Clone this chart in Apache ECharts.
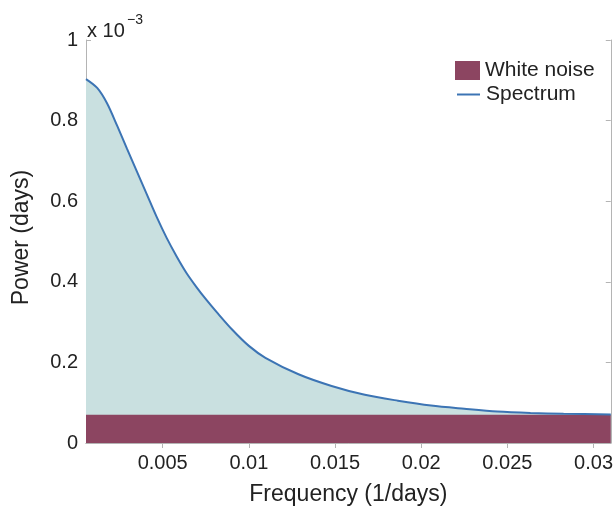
<!DOCTYPE html>
<html>
<head>
<meta charset="utf-8">
<script src="https://cdn.jsdelivr.net/npm/echarts@6/dist/echarts.min.js"></script>
<style>
  html, body { margin: 0; padding: 0; background: #fff; }
  #chart { width: 616px; height: 511px; }
</style>
</head>
<body>
<div id="chart"></div>
<script>
// Frequency (1/days) and spectral power (units of 1e-3 days)
const frequency = [0.00055, 0.0012, 0.00177, 0.00235, 0.00292, 0.0035, 0.00408, 0.00465, 0.00523,
  0.00581, 0.00638, 0.00696, 0.00754, 0.00811, 0.00904, 0.0100, 0.01096, 0.01288, 0.0148,
  0.01673, 0.01865, 0.02057, 0.0225, 0.02442, 0.02634, 0.02826, 0.0310];
const spectrum = [0.903, 0.881, 0.843, 0.788, 0.731, 0.674, 0.617, 0.561, 0.509,
  0.463, 0.422, 0.387, 0.355, 0.326, 0.281, 0.241, 0.2115, 0.1705, 0.1415,
  0.1195, 0.105, 0.093, 0.085, 0.078, 0.0745, 0.0727, 0.071];
const whiteNoiseLevel = 0.07;
const freqRange = [0.00055, 0.031];
const xTicks = [0.005, 0.01, 0.015, 0.02, 0.025, 0.03];
const yTicks = [0, 0.2, 0.4, 0.6, 0.8, 1];

const spectrumData = frequency.map((f, i) => [f, spectrum[i]]);
const noiseData = freqRange.map(f => [f, whiteNoiseLevel]);

const FONT = 'Liberation Sans, Arial, Helvetica, sans-serif';
const AXIS_GRAY = '#b4b4b4';
const NOISE = '#8c4561';
const FILL = '#c9e0e0';
const LINE = '#3c74b4';
const TEXT = '#222';

const tickStyle = { inside: true, length: 5, lineStyle: { color: AXIS_GRAY, width: 1 } };

const chart = echarts.init(document.getElementById('chart'), null, { renderer: 'canvas' });
chart.setOption({
  animation: false,
  backgroundColor: '#fff',
  grid: { left: 86, top: 40, right: 2, bottom: 61, containLabel: false },
  xAxis: [{
    type: 'value', min: freqRange[0], max: freqRange[1],
    name: 'Frequency (1/days)', nameLocation: 'middle', nameGap: 40,
    nameTextStyle: { fontFamily: FONT, fontSize: 23, color: TEXT },
    axisLine: { lineStyle: { color: AXIS_GRAY, width: 1 } },
    axisTick: Object.assign({ customValues: xTicks }, tickStyle),
    axisLabel: { customValues: xTicks, fontFamily: FONT, fontSize: 20, color: TEXT, margin: 10,
      formatter: v => String(v) },
    splitLine: { show: false }
  }, {
    type: 'value', position: 'top', min: freqRange[0], max: freqRange[1],
    axisLine: { lineStyle: { color: AXIS_GRAY, width: 1 } },
    axisTick: Object.assign({ customValues: xTicks }, tickStyle),
    axisLabel: { show: false },
    splitLine: { show: false }
  }],
  yAxis: [{
    type: 'value', min: 0, max: 1,
    name: 'Power (days)', nameLocation: 'middle', nameGap: 53,
    nameTextStyle: { fontFamily: FONT, fontSize: 23, color: TEXT, padding: [0, 0, 0, 8] },
    axisLine: { show: true, lineStyle: { color: AXIS_GRAY, width: 1 } },
    axisTick: Object.assign({ customValues: yTicks }, tickStyle),
    axisLabel: { customValues: yTicks, fontFamily: FONT, fontSize: 20, color: TEXT, margin: 8,
      padding: [6, 0, 0, 0], formatter: v => String(v) },
    splitLine: { show: false }
  }, {
    type: 'value', position: 'right', min: 0, max: 1,
    axisLine: { show: true, lineStyle: { color: AXIS_GRAY, width: 1 } },
    axisTick: Object.assign({ customValues: yTicks }, tickStyle),
    axisLabel: { show: false },
    splitLine: { show: false }
  }],
  legend: [{
    data: [{ name: 'White noise', icon: 'rect' }],
    left: 455, top: 60, padding: 0, itemWidth: 25, itemHeight: 19, itemGap: 6,
    textStyle: { fontFamily: FONT, fontSize: 21, color: TEXT },
    selectedMode: false
  }, {
    data: [{ name: 'Spectrum', icon: 'rect' }],
    left: 457, top: 84, padding: 0, itemWidth: 23, itemHeight: 2, itemGap: 6,
    textStyle: { fontFamily: FONT, fontSize: 21, color: TEXT, padding: [0, 0, 0, 1] },
    selectedMode: false
  }],
  graphic: [
    { type: 'text', left: 87, top: 21, style: { text: 'x 10', font: '20px ' + FONT, fill: TEXT } },
    { type: 'text', left: 127, top: 13, style: { text: '\u22123', font: '14px ' + FONT, fill: TEXT } }
  ],
  series: [{
    name: 'Spectrum area', type: 'line', data: spectrumData, smooth: 0.3,
    symbol: 'none', lineStyle: { width: 0 }, areaStyle: { color: FILL, opacity: 1 }, z: 1,
    silent: true
  }, {
    name: 'White noise', type: 'line', data: noiseData, symbol: 'none',
    lineStyle: { width: 0 }, itemStyle: { color: NOISE },
    areaStyle: { color: NOISE, opacity: 1 }, z: 2, silent: true
  }, {
    name: 'Spectrum', type: 'line', data: spectrumData, smooth: 0.3,
    symbol: 'none', lineStyle: { color: LINE, width: 2 }, itemStyle: { color: LINE }, z: 3,
    silent: true
  }]
});
</script>
</body>
</html>
